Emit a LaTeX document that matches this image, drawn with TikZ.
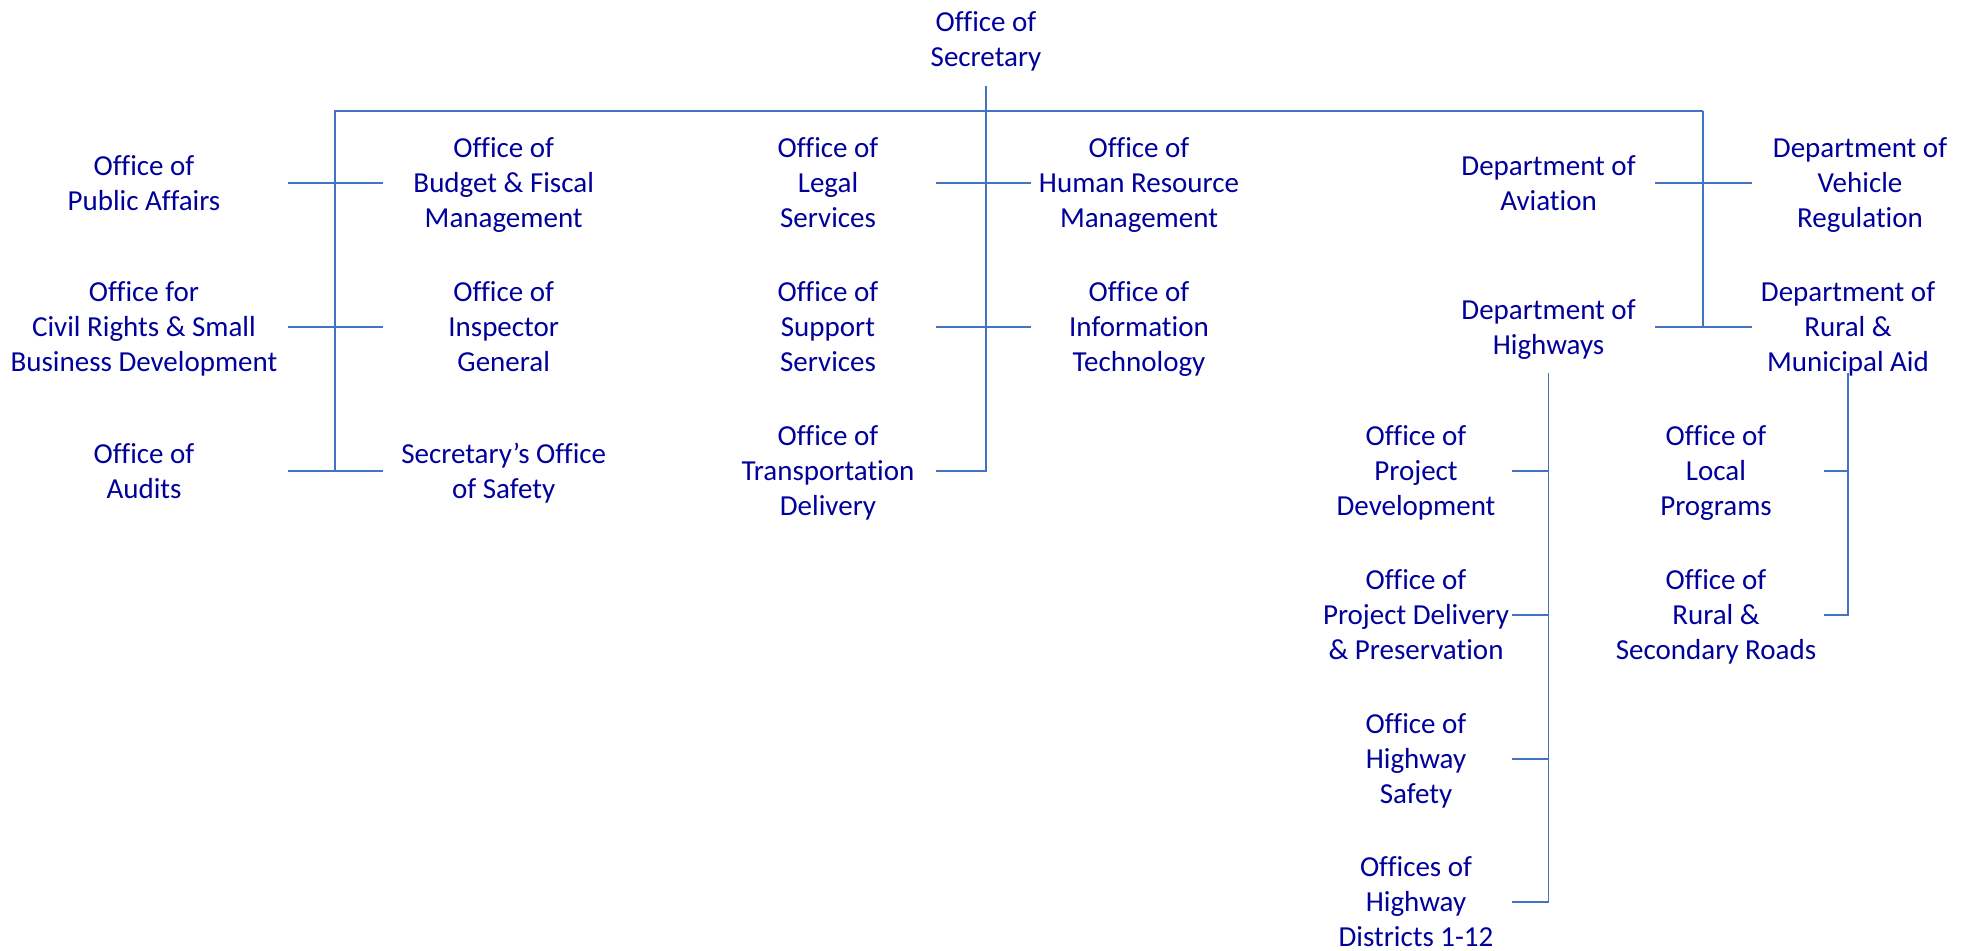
\documentclass[tikz,border=0pt]{standalone}
\usepackage{fontspec}
\setmainfont{Carlito}[Ligatures=CommonOff]
\definecolor{orgtext}{RGB}{0,0,155}
\definecolor{orgline}{RGB}{68,114,196}
\tikzset{
orgbox/.style={
  align=center,
  text=orgtext,
  inner xsep=0pt,
  inner ysep=0pt,
  text depth=0pt,
  font=\fontsize{14.5}{17.5}\selectfont,
  minimum width=#1
  },
orgbox/.default=108pt,
link/.style={
  draw=orgline,
  line width=0.9pt
  }
}

\begin{document}
\begin{tikzpicture}[x=0.5pt,y=-0.5pt]
\useasboundingbox (0,0) rectangle (1969,951);

\node[orgbox,inner ysep=9.4pt] (sec) at (986,39) {Office of\\Secretary};

% offices left of the secretary line
\node[orgbox=144pt] (pa)  at (144,182.7) {Office of\\Public Affairs};
\node[orgbox=144pt] (crs) at (144,326.7) {Office for\\Civil Rights \& Small\\Business Development};
\node[orgbox=144pt] (aud) at (144,470.7) {Office of\\Audits};
\node[orgbox=120pt] (bfm) at (503.7,182.7) {Office of\\Budget \& Fiscal\\Management};
\node[orgbox=120pt] (oig) at (503.7,326.7) {Office of\\Inspector\\General};
\node[orgbox=120pt] (sos) at (503.7,470.7) {Secretary’s Office\\of Safety};
\node[orgbox] (lgl) at (828,182.7) {Office of\\Legal\\Services};
\node[orgbox] (sup) at (828,326.7) {Office of\\Support\\Services};
\node[orgbox] (trd) at (828,470.7) {Office of\\Transportation\\Delivery};
\node[orgbox] (hrm) at (1139,182.7) {Office of\\Human Resource\\Management};
\node[orgbox] (oit) at (1139,326.7) {Office of\\Information\\Technology};

% departments
\node[orgbox=106.5pt] (avi) at (1548.5,182.7) {Department of\\Aviation};
\node[orgbox=106.5pt,inner ysep=9.2pt] (hwy) at (1548.5,326.7) {Department of\\Highways};
\node[orgbox] (vr) at (1860,182.7) {Department of\\Vehicle\\Regulation};
\node[orgbox=96pt] (rma) at (1848,326.7) {Department of\\Rural \&\\Municipal Aid};

% highway offices
\node[orgbox=96pt] (opd) at (1416,470.7) {Office of\\Project\\Development};
\node[orgbox=96pt] (pdp) at (1416,614.7) {Office of\\Project Delivery\\\& Preservation};
\node[orgbox=96pt] (ohs) at (1416,758.7) {Office of\\Highway\\Safety};
\node[orgbox=96pt] (dst) at (1416,902) {Offices of\\Highway\\Districts 1-12};

% rural offices
\node[orgbox=107.5pt] (olp) at (1716,470.7) {Office of\\Local\\Programs};
\node[orgbox=107.5pt] (rsr) at (1716,614.7) {Office of\\Rural \&\\Secondary Roads};

\coordinate (busL) at (335,110.7);
\coordinate (busR) at (1703,110.7);

\begin{scope}
\draw[link]
  (busL |- aud.east) -- (busL) -- (busR);
\draw[link,line width=1.4pt]
  (busR) -- (busR |- hwy.east);
\draw[link]
  (sec.south) -- (sec.south |- trd.east) -- (trd.east);
\draw[link]
  (pa.east) -- (bfm.west);
\draw[link]
  (crs.east) -- (oig.west);
\draw[link]
  (aud.east) -- (sos.west);
\draw[link]
  (lgl.east) -- (hrm.west);
\draw[link]
  (sup.east) -- (oit.west);
\draw[link]
  (avi.east) -- (vr.west);
\draw[link]
  (hwy.east) -- (rma.west);
\end{scope}

\begin{scope}
\draw[link]
  (hwy.south) -- (hwy.south |- dst.east) -- (dst.east);
\draw[link]
  (opd.east) -- (opd.east -| hwy.south);
\draw[link]
  (pdp.east) -- (pdp.east -| hwy.south);
\draw[link]
  (ohs.east) -- (ohs.east -| hwy.south);
\draw[link]
  (rma.south |- hwy.south) -- (rma.south |- rsr.east) -- (rsr.east);
\draw[link]
  (olp.east) -- (olp.east -| rma.south);
\end{scope}
\end{tikzpicture}
\end{document}
